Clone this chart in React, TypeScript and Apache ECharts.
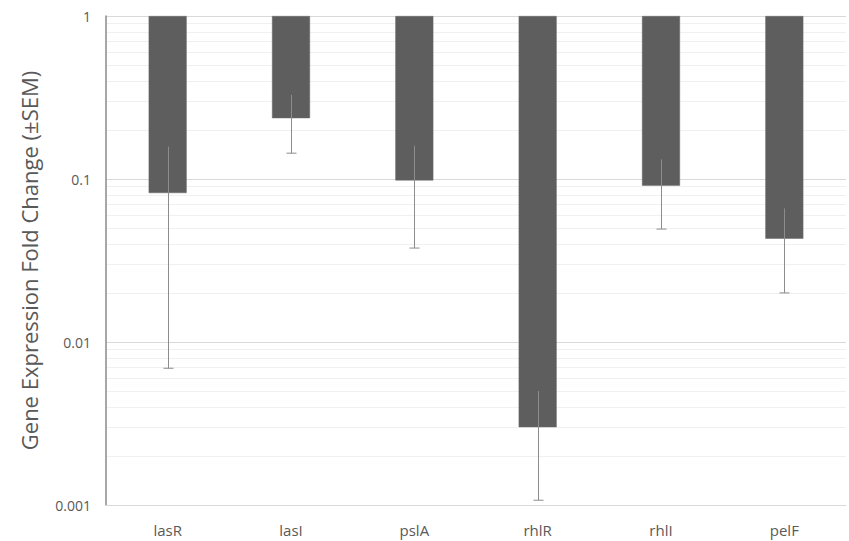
import React, { useEffect, useRef } from "react";
import * as echarts from "echarts";

const categories = ["lasR", "lasI", "pslA", "rhlR", "rhlI", "pelF"];
const foldChange = [0.082, 0.236, 0.098, 0.003, 0.091, 0.043];
const errUpper = [0.158, 0.328, 0.16, 0.005, 0.132, 0.066];
const errLower = [0.0069, 0.144, 0.0377, 0.00107, 0.0493, 0.02];
const minorGrid = [
  0.002, 0.003, 0.004, 0.005, 0.006, 0.007, 0.008, 0.009,
  0.02, 0.03, 0.04, 0.05, 0.06, 0.07, 0.08, 0.09,
  0.2, 0.3, 0.4, 0.5, 0.6, 0.7, 0.8, 0.9,
];
const yAxisTitle = "Gene Expression Fold Change (±SEM)";

const FONT = "'Open Sans', 'Noto Sans', sans-serif";

export default function App() {
  const ref = useRef<HTMLDivElement>(null);
  useEffect(() => {
    if (!ref.current) return;
    const chart = echarts.init(ref.current, undefined, { renderer: "svg" });
    chart.setOption({
      animation: false,
      backgroundColor: "#ffffff",
      grid: { left: 106, right: 3, top: 16, bottom: 36, containLabel: false },
      xAxis: {
        type: "category",
        data: categories,
        axisLine: { show: true, lineStyle: { color: "#d9d9d9", width: 1 } },
        axisTick: { show: false },
        axisLabel: {
          color: "#595959",
          fontSize: 15,
          fontFamily: FONT,
          margin: 17,
        },
      },
      yAxis: {
        type: "log",
        logBase: 10,
        min: 0.001,
        max: 1,
        name: yAxisTitle,
        nameLocation: "middle",
        nameGap: 66,
        nameTextStyle: { color: "#595959", fontSize: 22, fontFamily: FONT },
        axisLine: { show: true, lineStyle: { color: "#8a8a8a", width: 1.5 } },
        axisTick: { show: false },
        axisLabel: {
          color: "#595959",
          fontSize: 14,
          fontFamily: FONT,
          margin: 15,
          formatter: (v: number) => String(Number(v.toPrecision(3))),
        },
        splitLine: { show: true, lineStyle: { color: "#d9d9d9", width: 1 } },
      },
      series: [
        {
          type: "custom",
          name: "minorGrid",
          z: 0,
          silent: true,
          data: minorGrid.map((v) => [0, v]),
          encode: { x: 0, y: 1 },
          renderItem: (params: any, api: any) => {
            const cs = params.coordSys;
            const y = Math.round(api.coord([0, api.value(1)])[1]) + 0.5;
            return {
              type: "line",
              shape: { x1: cs.x, y1: y, x2: cs.x + cs.width, y2: y },
              style: { stroke: "#f0f0f0", lineWidth: 1 },
            };
          },
        },
        {
          type: "bar",
          name: "Fold change",
          z: 2,
          barWidth: 38,
          data: foldChange,
          itemStyle: { color: "#5e5e5e", borderColor: "#6a6a6a", borderWidth: 0.5 },
        },
        {
          type: "custom",
          name: "SEM",
          z: 3,
          silent: true,
          data: categories.map((_, i) => [i, errLower[i], errUpper[i]]),
          encode: { x: 0, y: [1, 2] },
          renderItem: (params: any, api: any) => {
            const x = api.value(0);
            const lo = api.coord([x, api.value(1)]);
            const hi = api.coord([x, api.value(2)]);
            const cx = Math.round(lo[0]) + 0.5;
            return {
              type: "group",
              children: [
                {
                  type: "line",
                  shape: { x1: cx, y1: hi[1], x2: cx, y2: lo[1] },
                  style: { stroke: "#8c8c8c", lineWidth: 1 },
                },
                {
                  type: "line",
                  shape: { x1: cx - 5, y1: lo[1], x2: cx + 5, y2: lo[1] },
                  style: { stroke: "#8c8c8c", lineWidth: 1 },
                },
              ],
            };
          },
        },
      ],
    });
    return () => chart.dispose();
  }, []);
  return <div ref={ref} style={{ width: 849, height: 541, position: "absolute", left: 0, top: 0 }} />;
}
